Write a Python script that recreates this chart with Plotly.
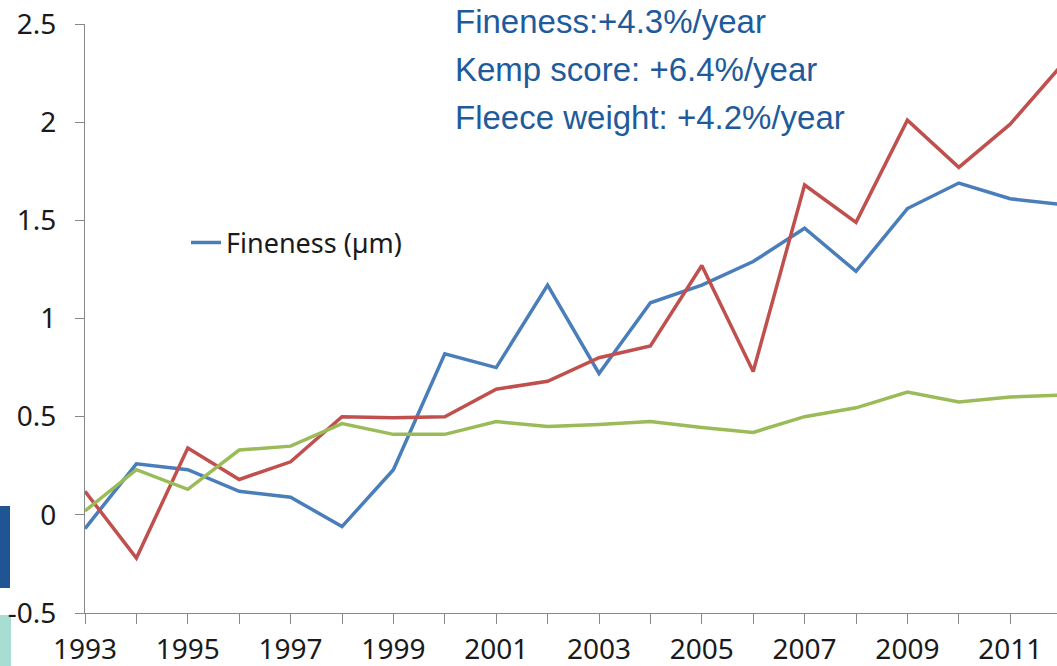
import plotly.graph_objects as go

# Annual deviations from 1993, three traits
years = list(range(1993, 2013))
fineness = [-0.07, 0.26, 0.23, 0.12, 0.09, -0.06, 0.23, 0.82, 0.75, 1.17,
            0.72, 1.08, 1.17, 1.29, 1.46, 1.24, 1.56, 1.69, 1.61, 1.58]
kemp = [0.12, -0.22, 0.34, 0.18, 0.27, 0.50, 0.495, 0.50, 0.64, 0.68,
        0.80, 0.86, 1.27, 0.73, 1.68, 1.49, 2.01, 1.77, 1.99, 2.29]
fleece = [0.02, 0.23, 0.13, 0.33, 0.35, 0.465, 0.41, 0.41, 0.475, 0.45,
          0.46, 0.475, 0.445, 0.42, 0.50, 0.545, 0.625, 0.575, 0.60, 0.61]

y_ticks = [-0.5, 0, 0.5, 1, 1.5, 2, 2.5]
y_tick_text = ["-0.5", "0", "0.5", "1", "1.5", "2", "2.5"]
x_tick_text = [str(y) if (y - 1993) % 2 == 0 else "" for y in years]

trend_lines = ["Fineness:+4.3%/year",
               "Kemp score: +6.4%/year",
               "Fleece weight: +4.2%/year"]

W, H = 1057, 666
L, R, T, B = 85, 0, 24, 53
PW = W - L - R
PH = H - T - B
px_per_year = 51.4
x_end = 1993 + PW / px_per_year

def px(xpix):
    return (xpix - L) / PW

def py(ypix):
    return (H - B - ypix) / PH

fig = go.Figure()
fig.add_trace(go.Scatter(x=years, y=fineness, mode="lines", name="Fineness (µm)",
                         line=dict(color="#4A7EBB", width=3.5)))
fig.add_trace(go.Scatter(x=years, y=kemp, mode="lines", name="Kemp score",
                         line=dict(color="#C0504D", width=3.5), showlegend=False))
fig.add_trace(go.Scatter(x=years, y=fleece, mode="lines", name="Fleece weight",
                         line=dict(color="#9BBB59", width=3.5), showlegend=False))

tick_font = dict(family="Noto Sans, Open Sans, sans-serif", size=28, color="#1a1a1a")

fig.update_xaxes(range=[1993, x_end], tickvals=years, ticktext=x_tick_text,
                 ticks="outside", ticklen=10, tickcolor="#888888",
                 showline=True, linecolor="#888888", linewidth=1,
                 showgrid=False, zeroline=False, tickfont=tick_font,
                 ticklabelstandoff=1, automargin=False)
fig.update_yaxes(range=[-0.5, 2.5], tickvals=y_ticks, ticktext=y_tick_text,
                 ticks="outside", ticklen=9, tickcolor="#888888",
                 showline=True, linecolor="#888888", linewidth=1,
                 showgrid=False, zeroline=False, tickfont=tick_font,
                 ticklabelstandoff=13, automargin=False)

for i, txt in enumerate(trend_lines):
    fig.add_annotation(text=txt, xref="paper", yref="paper",
                       x=px(453), y=py(22 + 48 * i), xanchor="left", yanchor="middle",
                       showarrow=False,
                       font=dict(family="Liberation Sans, Arial, sans-serif",
                                 size=33, color="#1F5B9B"))

# cropped slide decorations along the left edge
fig.add_shape(type="rect", xref="paper", yref="paper",
              x0=px(0), x1=px(10), y0=py(588), y1=py(506),
              fillcolor="#1F5592", line_width=0, layer="below")
fig.add_shape(type="rect", xref="paper", yref="paper",
              x0=px(0), x1=px(11), y0=py(666), y1=py(615),
              fillcolor="#A8DDD2", line_width=0, layer="below")

fig.update_layout(
    width=W, height=H,
    margin=dict(l=L, r=R, t=T, b=B, pad=0, autoexpand=False),
    paper_bgcolor="white", plot_bgcolor="white",
    showlegend=True,
    legend=dict(x=px(186), y=py(243), xanchor="left", yanchor="middle",
                bgcolor="rgba(0,0,0,0)", borderwidth=0,
                font=dict(family="Noto Sans, Open Sans, sans-serif", size=27,
                          color="#1a1a1a"),
                itemwidth=30),
)

fig.write_html("out.html")
